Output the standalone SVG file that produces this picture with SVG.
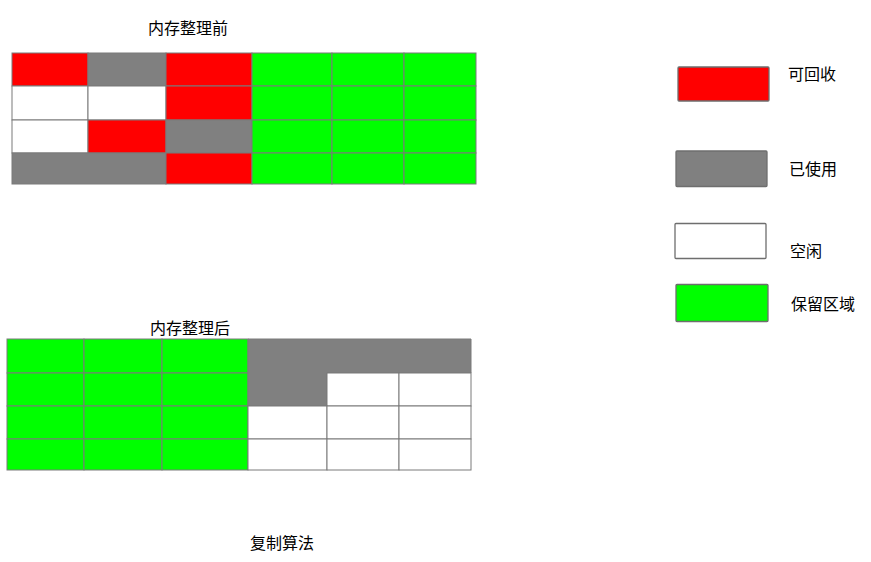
<svg xmlns="http://www.w3.org/2000/svg" width="871" height="562" viewBox="0 0 871 562">
<style>
  text { font-family: "Noto Sans CJK SC", "Noto Sans", sans-serif; font-size: 16px; fill: #000; }
  .c { stroke: #7a7a7a; stroke-width: 1; }
  .r { fill: #ff0000; }
  .g { fill: #808080; }
  .w { fill: #ffffff; }
  .n { fill: #00ff00; }
  .lg { stroke: #6e6e6e; stroke-width: 1.3; }
</style>
<rect width="871" height="562" fill="#ffffff"/>

<g id="title-before"><text x="188" y="34" text-anchor="middle">内存整理前</text></g>
<g id="grid-before">
  <!-- row 1 -->
  <rect class="c r" x="12" y="53" width="76" height="33"/>
  <rect class="c g" x="88" y="53" width="78" height="33"/>
  <rect class="c r" x="166" y="53" width="86" height="33"/>
  <rect class="c n" x="252" y="53" width="80" height="33"/>
  <rect class="c n" x="332" y="53" width="72" height="33"/>
  <rect class="c n" x="404" y="53" width="72" height="33"/>
  <!-- row 2 -->
  <rect class="c w" x="12" y="86" width="76" height="34"/>
  <rect class="c w" x="88" y="86" width="78" height="34"/>
  <rect class="c r" x="166" y="86" width="86" height="34"/>
  <rect class="c n" x="252" y="86" width="80" height="34"/>
  <rect class="c n" x="332" y="86" width="72" height="34"/>
  <rect class="c n" x="404" y="86" width="72" height="34"/>
  <!-- row 3 -->
  <rect class="c w" x="12" y="120" width="76" height="33"/>
  <rect class="c r" x="88" y="120" width="78" height="33"/>
  <rect class="c g" x="166" y="120" width="86" height="33"/>
  <rect class="c n" x="252" y="120" width="80" height="33"/>
  <rect class="c n" x="332" y="120" width="72" height="33"/>
  <rect class="c n" x="404" y="120" width="72" height="33"/>
  <!-- row 4 -->
  <rect class="c g" x="12" y="153" width="154" height="31"/>
  <rect class="c r" x="166" y="153" width="86" height="31"/>
  <rect class="c n" x="252" y="153" width="80" height="31"/>
  <rect class="c n" x="332" y="153" width="72" height="31"/>
  <rect class="c n" x="404" y="153" width="72" height="31"/>
</g>

<g id="title-after"><text x="190" y="334" text-anchor="middle">内存整理后</text></g>
<g id="grid-after">
  <rect class="c n" x="7" y="339" width="77" height="34"/>
  <rect class="c n" x="84" y="339" width="78" height="34"/>
  <rect class="c n" x="162" y="339" width="86" height="34"/>
  <rect class="c n" x="7" y="373" width="77" height="33"/>
  <rect class="c n" x="84" y="373" width="78" height="33"/>
  <rect class="c n" x="162" y="373" width="86" height="33"/>
  <rect class="c n" x="7" y="406" width="77" height="33"/>
  <rect class="c n" x="84" y="406" width="78" height="33"/>
  <rect class="c n" x="162" y="406" width="86" height="33"/>
  <rect class="c n" x="7" y="439" width="77" height="31"/>
  <rect class="c n" x="84" y="439" width="78" height="31"/>
  <rect class="c n" x="162" y="439" width="86" height="31"/>
  <path class="c g" d="M248,339 H471 V373 H327 V406 H248 Z"/>
  <rect class="c w" x="327" y="373" width="72" height="33"/>
  <rect class="c w" x="399" y="373" width="72" height="33"/>
  <rect class="c w" x="248" y="406" width="79" height="33"/>
  <rect class="c w" x="327" y="406" width="72" height="33"/>
  <rect class="c w" x="399" y="406" width="72" height="33"/>
  <rect class="c w" x="248" y="439" width="79" height="31"/>
  <rect class="c w" x="327" y="439" width="72" height="31"/>
  <rect class="c w" x="399" y="439" width="72" height="31"/>
</g>

<g id="caption"><text x="282" y="549" text-anchor="middle">复制算法</text></g>

<g id="legend-recyclable">
  <rect class="lg r" x="678" y="67" width="91" height="34" rx="1"/>
  <text x="788" y="80">可回收</text>
</g>
<g id="legend-used">
  <rect class="lg g" x="676" y="151" width="91" height="35.5" rx="1"/>
  <text x="789" y="175">已使用</text>
</g>
<g id="legend-free">
  <rect class="lg w" x="675" y="223.5" width="91" height="35" rx="1"/>
  <text x="790" y="257">空闲</text>
</g>
<g id="legend-reserved">
  <rect class="lg n" x="676" y="284.5" width="92" height="37" rx="1"/>
  <text x="791" y="310">保留区域</text>
</g>
</svg>
